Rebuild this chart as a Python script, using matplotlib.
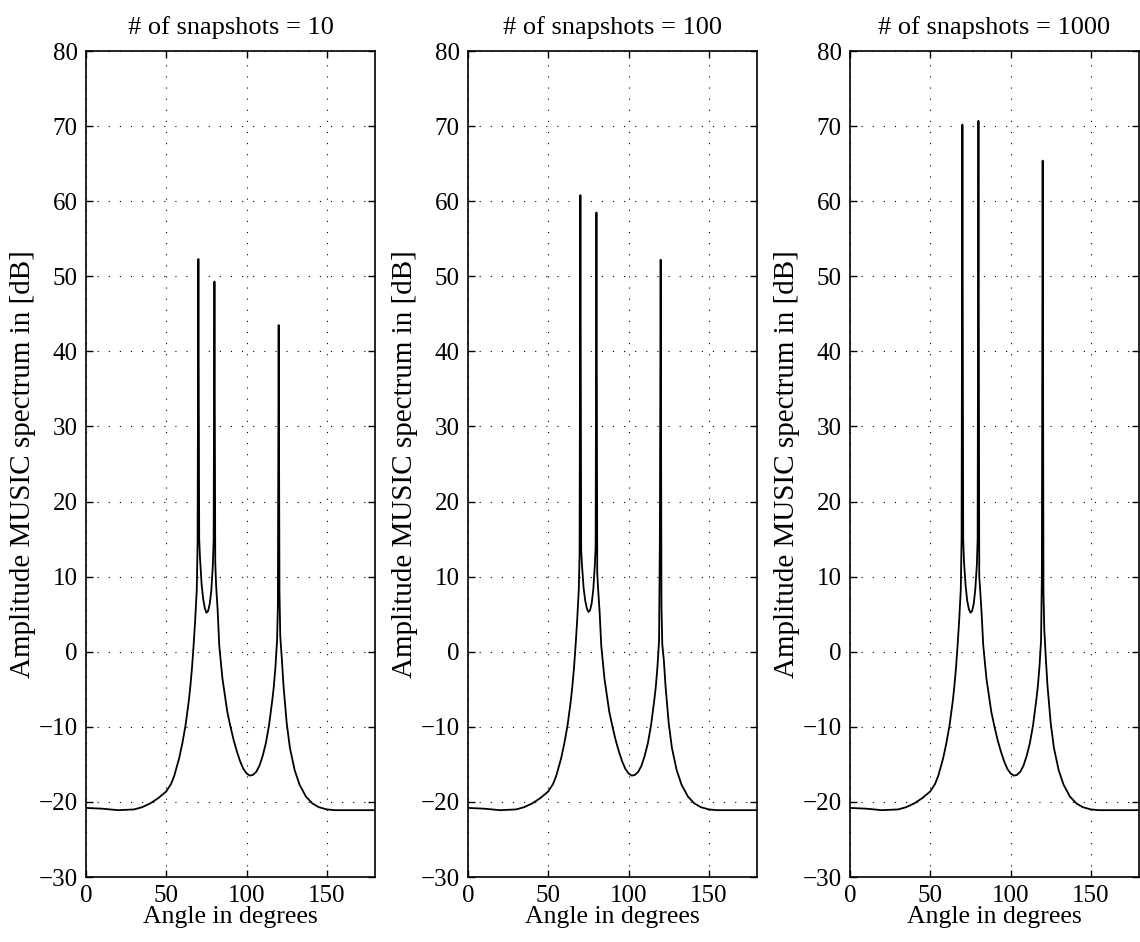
import matplotlib
matplotlib.use("Agg")
import matplotlib.pyplot as plt

plt.rcParams["font.family"] = ["Liberation Serif", "DejaVu Serif"]

angle = [0, 10, 20, 30, 35, 40, 45, 50, 53, 55, 58, 60, 62, 64, 65, 66, 67, 68, 69, 69.5,
         70, 70.5, 71, 72, 73, 74, 75, 76, 77, 78, 79, 79.5, 80, 80.5, 81, 82, 83,
         85, 88, 90, 92, 94, 96, 98, 100, 102, 104, 106, 108, 110, 112, 114, 116, 117,
         118, 119, 119.5, 120, 120.5, 121, 122, 123, 125, 127, 130, 133, 137, 141, 145,
         150, 155, 160, 170, 180]

# MUSIC spectrum in dB, 10 snapshots
snap10 = [-20.8, -20.9, -21.1, -21.0, -20.7, -20.2, -19.5, -18.6, -17.6, -16.5, -14.2,
          -12.2, -9.8, -6.6, -4.6, -2.2, 0.8, 4.2, 8.3, 14.5,
          52.3, 15.0, 12.5, 9.0, 7.0, 5.8, 5.2, 5.4, 6.3, 8.0, 11.5, 15.0, 49.3, 12.0,
          9.0, 5.5, 0.8, -3.6, -8.0, -10.0, -11.8, -13.3, -14.6, -15.6, -16.2, -16.5,
          -16.4, -16.0, -15.2, -13.9, -12.2, -9.8, -6.5, -4.6, -2.0, 1.5, 6.0, 43.5,
          8.0, 2.0, -1.0, -4.5, -9.5, -12.8, -15.8, -17.7, -19.3, -20.2, -20.7, -21.0,
          -21.1, -21.1, -21.1, -21.1]

# 100 snapshots
snap100 = [-20.8, -20.9, -21.1, -21.0, -20.7, -20.2, -19.5, -18.6, -17.6, -16.5, -14.2,
           -12.2, -9.8, -6.6, -4.6, -2.2, 0.8, 4.2, 8.3, 13.0,
           60.8, 13.5, 11.5, 8.5, 6.8, 5.8, 5.3, 5.5, 6.4, 8.2, 11.5, 14.0, 58.5, 10.5,
           8.5, 5.2, 0.8, -3.6, -8.0, -10.0, -11.8, -13.3, -14.6, -15.6, -16.2, -16.5,
           -16.4, -16.0, -15.2, -13.9, -12.2, -9.8, -6.5, -4.6, -2.0, 1.5, 15.0, 52.2,
           6.0, 1.0, -1.2, -4.5, -9.5, -12.8, -15.8, -17.7, -19.3, -20.2, -20.7, -21.0,
           -21.1, -21.1, -21.1, -21.1]

# 1000 snapshots
snap1000 = [-20.8, -20.9, -21.1, -21.0, -20.7, -20.2, -19.5, -18.6, -17.6, -16.5, -14.2,
            -12.2, -9.8, -6.6, -4.6, -2.2, 0.8, 4.2, 8.3, 15.0,
            70.2, 15.0, 12.0, 8.8, 6.8, 5.7, 5.2, 5.4, 6.3, 8.2, 11.5, 15.0, 70.7, 10.0,
            8.5, 5.0, 0.8, -3.6, -8.0, -10.0, -11.8, -13.3, -14.6, -15.6, -16.2, -16.5,
            -16.4, -16.0, -15.2, -13.9, -12.2, -9.8, -6.5, -4.6, -2.0, 1.5, 10.0, 65.4,
            8.0, 3.0, -1.0, -4.5, -9.5, -12.8, -15.8, -17.7, -19.3, -20.2, -20.7, -21.0,
            -21.1, -21.1, -21.1, -21.1]

titles = ["# of snapshots = 10", "# of snapshots = 100", "# of snapshots = 1000"]
series = [snap10, snap100, snap1000]
lefts = [86, 468, 850]

fig = plt.figure(figsize=(11.4, 9.42), dpi=100)

for left, title, vals in zip(lefts, titles, series):
    ax = fig.add_axes([left / 1140, 1 - 877 / 942, 289 / 1140, 826 / 942])
    ax.plot(angle, vals, color="black", lw=1.3)
    ax.set_xlim(0, 180)
    ax.set_ylim(-30, 80)
    ax.set_xticks([0, 50, 100, 150])
    ax.set_yticks(range(-30, 81, 10))
    ax.grid(True, color="black", lw=0.8, linestyle=(0, (1, 9)))
    ax.tick_params(direction="in", top=True, right=True, length=5, width=1,
                   labelsize=18, pad=6)
    for s in ax.spines.values():
        s.set_linewidth(1.2)
    ax.set_title(title, fontsize=19, pad=12)
    ax.set_xlabel("Angle in degrees", fontsize=18.5, labelpad=-1)
    ax.set_ylabel("Amplitude MUSIC spectrum in [dB]", fontsize=21, labelpad=2)

fig.savefig("out.png", dpi=100)
